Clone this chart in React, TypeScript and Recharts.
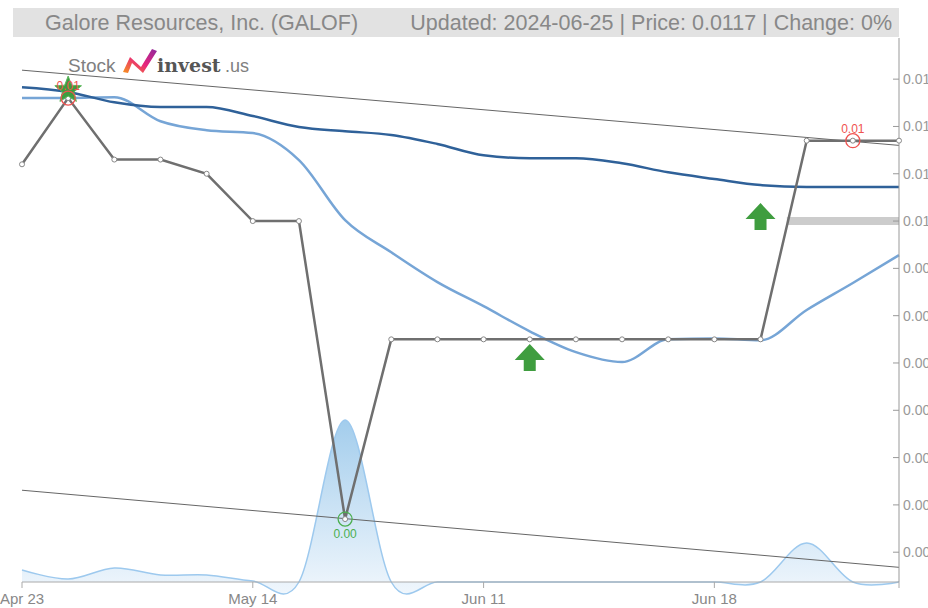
import React from 'react'
import {
  ComposedChart,
  Line,
  Area,
  XAxis,
  YAxis,
  ReferenceLine,
  ReferenceDot,
} from 'recharts'

// trading days shown on the chart (sparse, thinly traded OTC stock)
const dates = [
  'Apr 23', 'Apr 25', 'Apr 29', 'May 1', 'May 7', 'May 14', 'May 15', 'May 17', 'May 22', 'May 29',
  'Jun 11', 'Jun 12', 'Jun 13', 'Jun 14', 'Jun 17', 'Jun 18', 'Jun 20', 'Jun 21', 'Jun 24', 'Jun 25',
]

const price = [
  0.0112, 0.0126, 0.0113, 0.0113, 0.011, 0.01, 0.01, 0.0037, 0.0075, 0.0075,
  0.0075, 0.0075, 0.0075, 0.0075, 0.0075, 0.0075, 0.0075, 0.0117, 0.0117, 0.0117,
]

const smaLong = [
  0.01283, 0.01273, 0.01251, 0.01241, 0.01241, 0.01222, 0.01199, 0.0119, 0.01182, 0.01163,
  0.01139, 0.01133, 0.01133, 0.01122, 0.01103, 0.01089, 0.01076, 0.01072, 0.01072, 0.01072,
]

const smaShort = [
  0.0126, 0.0126, 0.01262, 0.01211, 0.01192, 0.01186, 0.01129, 0.01002, 0.00934, 0.00871,
  0.0082, 0.00767, 0.00723, 0.00702, 0.0075, 0.00752, 0.00748, 0.00812, 0.00869, 0.00928,
]

const volume = [
  12000, 3000, 14000, 7000, 7000, 1000, 0, 162000, 0, 0,
  0, 0, 0, 0, 0, 0, 0, 39000, 0, 0,
]

const priceTicks = [0.003, 0.004, 0.005, 0.006, 0.007, 0.008, 0.009, 0.01, 0.011, 0.012, 0.013]
const dateTicks = [0, 5, 10, 15, 19]
const labelledTicks = [0, 5, 10, 15]

const upperTrend = [
  { x: 0, y: 0.01319 },
  { x: 19, y: 0.0116 },
]
const lowerTrend = [
  { x: 0, y: 0.00431 },
  { x: 19, y: 0.00268 },
]
const resistance = [
  { x: 16.57, y: 0.01 },
  { x: 19, y: 0.01 },
]

const data = dates.map((d, i) => ({
  i,
  date: d,
  price: price[i],
  smaLong: smaLong[i],
  smaShort: smaShort[i],
  volume: volume[i],
}))

const RED = '#ef5350'
const GREEN = '#3f9d3f'

// cardinal spline (tension 0), same as d3.curveCardinal - volume curve overshoots a bit
function cardinalCurve(context: any) {
  const k = 1 / 6
  let x0 = NaN, x1 = NaN, x2 = NaN, y0 = NaN, y1 = NaN, y2 = NaN
  let pt = 0
  let line: number = NaN
  const seg = (x: number, y: number) => {
    context.bezierCurveTo(
      x1 + k * (x2 - x0),
      y1 + k * (y2 - y0),
      x2 + k * (x1 - x),
      y2 + k * (y1 - y),
      x2,
      y2
    )
  }
  return {
    areaStart() {
      line = 0
    },
    areaEnd() {
      line = NaN
    },
    lineStart() {
      x0 = x1 = x2 = y0 = y1 = y2 = NaN
      pt = 0
    },
    lineEnd() {
      if (pt === 2) context.lineTo(x2, y2)
      else if (pt === 3) seg(x1, y1)
      if (line || (line !== 0 && pt === 1)) context.closePath()
      line = 1 - line
    },
    point(x: number, y: number) {
      x = +x
      y = +y
      if (pt === 0) {
        pt = 1
        if (line) context.lineTo(x, y)
        else context.moveTo(x, y)
      } else if (pt === 1) {
        pt = 2
        x1 = x
        y1 = y
      } else {
        pt = 3
        seg(x, y)
      }
      x0 = x1
      x1 = x2
      x2 = x
      y0 = y1
      y1 = y2
      y2 = y
    },
  }
}

function PriceTick(props: any) {
  const { x, y, payload } = props
  return (
    <g>
      <line x1={x - 10} x2={x - 4} y1={y} y2={y} stroke="#999" />
      <text x={x} y={y} dy={5} fill="#999" fontSize={14}>
        {payload.value.toFixed(3)}
      </text>
    </g>
  )
}

function UpArrow(props: any) {
  const { cx, cy } = props
  const p = [
    [cx, cy],
    [cx + 15, cy + 16],
    [cx + 6, cy + 16],
    [cx + 6, cy + 27],
    [cx - 6, cy + 27],
    [cx - 6, cy + 16],
    [cx - 15, cy + 16],
  ]
  return <polygon points={p.map((q) => q.join(',')).join(' ')} fill={GREEN} />
}

function Star(props: any) {
  const { cx, cy } = props
  const pts: string[] = []
  for (let k = 0; k < 10; k++) {
    const r = k % 2 === 0 ? 14 : 6
    const a = -Math.PI / 2 + (k * Math.PI) / 5
    pts.push(`${cx + r * Math.cos(a)},${cy - 8 + r * Math.sin(a)}`)
  }
  return <polygon points={pts.join(' ')} fill={GREEN} stroke="#5cb85c" strokeWidth={1} />
}

function Ring(color: string, text: string, below: boolean) {
  return (props: any) => {
    const { cx, cy } = props
    return (
      <g>
        <circle cx={cx} cy={cy} r={7} fill="none" stroke={color} strokeWidth={1.3} />
        <text
          x={cx}
          y={below ? cy + 19 : cy - 8}
          textAnchor="middle"
          fill={color}
          fontSize={12}
        >
          {text}
        </text>
      </g>
    )
  }
}

function Header() {
  return (
    <svg
      width={928}
      height={80}
      style={{ position: 'absolute', left: 0, top: 0, pointerEvents: 'none' }}
    >
      <defs>
        <linearGradient id="logoGrad" x1="0" y1="1" x2="1" y2="0">
          <stop offset="0%" stopColor="#f7941d" />
          <stop offset="50%" stopColor="#e8247c" />
          <stop offset="100%" stopColor="#8e2a9e" />
        </linearGradient>
      </defs>
      <rect x={13} y={8} width={886} height={29} fill="#e2e2e2" />
      <text x={45} y={30} fontSize={21.5} fill="#888">
        Galore Resources, Inc. (GALOF)
      </text>
      <text x={892} y={30} fontSize={21.5} fill="#888" textAnchor="end">
        Updated: 2024-06-25 | Price: 0.0117 | Change: 0%
      </text>
      <text x={68} y={72} fontSize={19} fill="#808080">
        Stock
      </text>
      <polygon
        points="123,72 130,57 141,67 152,49 157,51 143,73 132,63 128,73"
        fill="url(#logoGrad)"
      />
      <text x={157} y={72} fontSize={19} fontWeight="bold" fill="#555" fontFamily="DejaVu Serif, serif">
        invest
      </text>
      <text x={225} y={72} fontSize={18} fill="#808080">
        .us
      </text>
    </svg>
  )
}

export default function App() {
  return (
    <div
      style={{
        position: 'relative',
        width: 928,
        height: 608,
        overflow: 'hidden',
        background: '#fff',
        fontFamily: 'Liberation Sans, Arial, sans-serif',
      }}
    >
      <style>{'body{margin:0}'}</style>
      <ComposedChart
        width={960}
        height={608}
        data={data}
        margin={{ top: 38, right: 11, left: 22, bottom: 0 }}
      >
        <defs>
          <linearGradient id="volGrad" x1="0" y1="0" x2="0" y2="1">
            <stop offset="0%" stopColor="#5da7de" stopOpacity={0.95} />
            <stop offset="100%" stopColor="#e3effa" stopOpacity={0.9} />
          </linearGradient>
        </defs>
        <XAxis
          dataKey="i"
          type="number"
          domain={[0, 19]}
          ticks={dateTicks}
          tickFormatter={(v) => (labelledTicks.includes(v) ? dates[v] : '')}
          height={26}
          stroke="#aaa"
          tickMargin={5}
          tick={{ fill: '#888', fontSize: 15 }}
        />
        <YAxis
          orientation="right"
          domain={[0.00237, 0.01387]}
          ticks={priceTicks}
          width={50}
          stroke="#999"
          tickSize={0}
          tickMargin={4}
          tickLine={false}
          tick={<PriceTick />}
        />
        <YAxis yAxisId="vol" hide domain={[0, 544000]} />
        <Area
          yAxisId="vol"
          type={cardinalCurve as any}
          dataKey="volume"
          stroke="#9dc9ee"
          strokeWidth={1.5}
          fill="url(#volGrad)"
          isAnimationActive={false}
          dot={false}
          activeDot={false}
        />
        <ReferenceLine segment={upperTrend} stroke="#666" strokeWidth={1} />
        <ReferenceLine segment={lowerTrend} stroke="#666" strokeWidth={1} />
        <ReferenceLine segment={resistance} stroke="#cccccc" strokeWidth={8} />
        <Line
          type="monotone"
          dataKey="smaShort"
          stroke="#76a5d6"
          strokeWidth={2.5}
          dot={false}
          isAnimationActive={false}
        />
        <Line
          type="monotone"
          dataKey="smaLong"
          stroke="#2f6199"
          strokeWidth={2.5}
          dot={false}
          isAnimationActive={false}
        />
        <Line
          type="linear"
          dataKey="price"
          stroke="#6f6f6f"
          strokeWidth={2.5}
          dot={{ r: 2.5, fill: '#fff', stroke: '#888', strokeWidth: 1 }}
          isAnimationActive={false}
        />
        <ReferenceDot x={1} y={0.0126} r={1} shape={Star} />
        <ReferenceDot x={1} y={0.0126} r={7} shape={Ring(RED, '0.01', false)} />
        <ReferenceDot x={18} y={0.0117} r={7} shape={Ring(RED, '0.01', false)} />
        <ReferenceDot x={7} y={0.0037} r={7} shape={Ring('#4caf50', '0.00', true)} />
        <ReferenceDot x={11} y={0.0074} r={1} shape={UpArrow} />
        <ReferenceDot x={16} y={0.01038} r={1} shape={UpArrow} />
      </ComposedChart>
      <Header />
    </div>
  )
}
